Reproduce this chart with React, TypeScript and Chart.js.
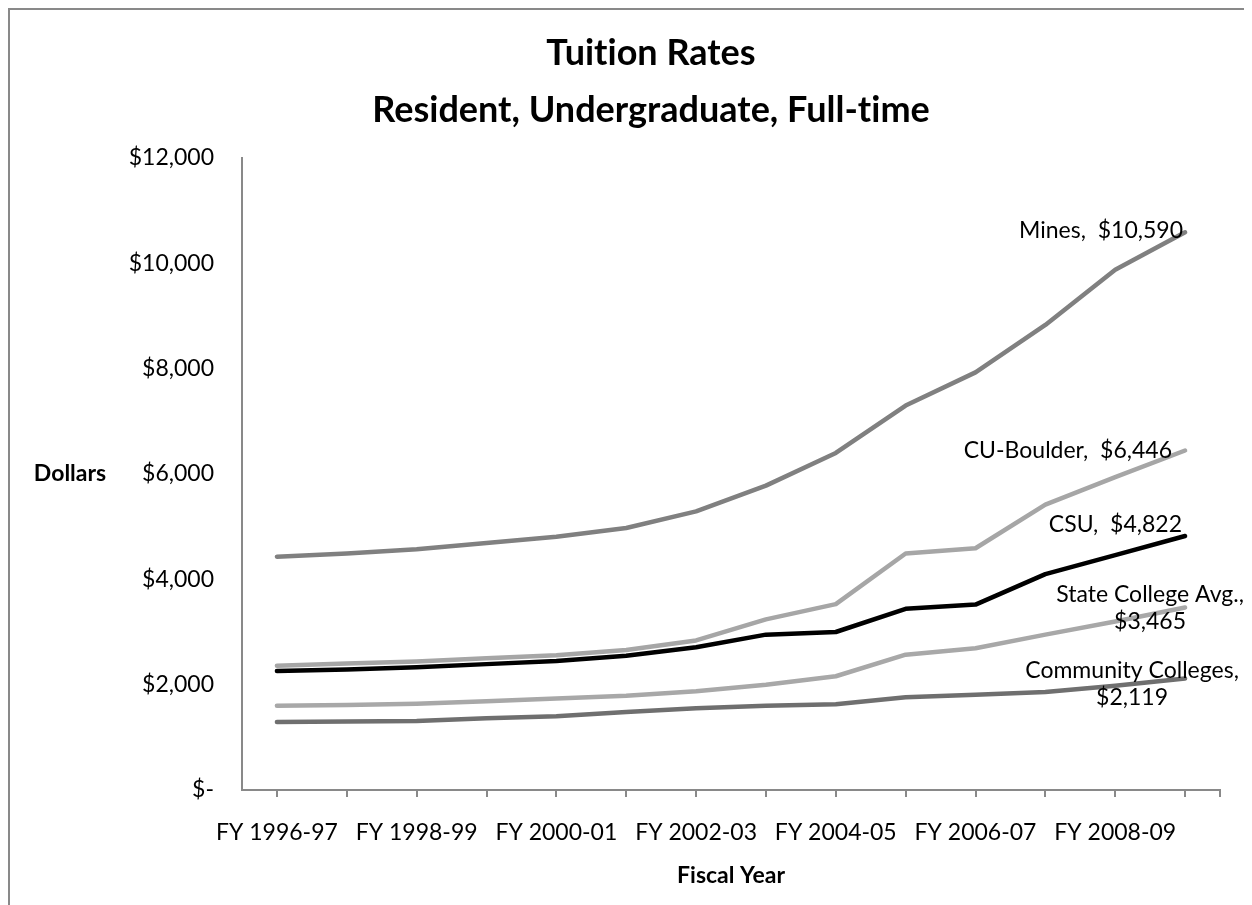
import React, { useEffect, useRef } from "react";
import { Chart, registerables } from "chart.js";

Chart.register(...registerables);

// Fiscal years on the category axis
const fiscalYears = [
  "FY 1996-97", "FY 1997-98", "FY 1998-99", "FY 1999-00", "FY 2000-01",
  "FY 2001-02", "FY 2002-03", "FY 2003-04", "FY 2004-05", "FY 2005-06",
  "FY 2006-07", "FY 2007-08", "FY 2008-09", "FY 2009-10",
];

// Resident undergraduate full-time tuition, dollars per year
const minesTuition = [4430, 4490, 4570, 4690, 4810, 4975, 5290, 5780, 6400, 7300, 7930, 8830, 9880, 10590];
const cuBoulderTuition = [2360, 2400, 2440, 2500, 2560, 2660, 2840, 3240, 3530, 4490, 4590, 5420, 5940, 6446];
const csuTuition = [2260, 2290, 2330, 2390, 2450, 2550, 2710, 2950, 3000, 3440, 3520, 4100, 4460, 4822];
const stateCollegeTuition = [1600, 1615, 1640, 1685, 1735, 1790, 1875, 2000, 2160, 2570, 2690, 2950, 3200, 3465];
const communityCollegeTuition = [1290, 1300, 1310, 1360, 1400, 1480, 1550, 1600, 1630, 1760, 1810, 1860, 1980, 2119];

const yTicks = [0, 2000, 4000, 6000, 8000, 10000, 12000];

const FONT = "Lato, 'Noto Sans', sans-serif";
const AXIS_GRAY = "#898989";

const money = (v: number) => (v === 0 ? "$-" : "$" + v.toLocaleString("en-US"));

// End-of-line labels: series name and final value, placed next to the last point
const seriesLabels = [
  { lines: (v: string) => ["Mines,  " + v], align: "right", dx: -2, dy: -2 },
  { lines: (v: string) => ["CU-Boulder,  " + v], align: "right", dx: -13, dy: 0 },
  { lines: (v: string) => ["CSU,  " + v], align: "right", dx: -3, dy: -11 },
  { lines: (v: string) => ["State College Avg.,", v], align: "center", dx: -35, dy: 1 },
  { lines: (v: string) => ["Community Colleges,", v], align: "center", dx: -53, dy: 6 },
];

const decorPlugin = {
  id: "decor",
  afterDraw(chart: any) {
    const { ctx, chartArea } = chart;
    const { left, right, top, bottom } = chartArea;
    ctx.save();
    // tiny letter spacing keeps Lato from forming "ti" ligatures
    ctx.letterSpacing = "0.01px";

    // closing tick at the right end of the category axis
    ctx.strokeStyle = AXIS_GRAY;
    ctx.lineWidth = 2;
    ctx.beginPath();
    ctx.moveTo(right, bottom);
    ctx.lineTo(right, bottom + 7);
    ctx.stroke();

    // chart title
    ctx.fillStyle = "#000";
    ctx.textAlign = "center";
    ctx.textBaseline = "alphabetic";
    ctx.font = `bold 36px ${FONT}`;
    const cx = chart.width / 2 + 20;
    ctx.fillText("Tuition Rates", cx, 55);
    ctx.fillText("Resident, Undergraduate, Full-time", cx, 112);

    // axis titles
    ctx.font = `bold 23px ${FONT}`;
    ctx.textBaseline = "middle";
    ctx.fillText("Dollars", left - 172, (top + bottom) / 2);
    ctx.fillText("Fiscal Year", (left + right) / 2, bottom + 86);

    // end-of-line value labels
    ctx.font = `23px ${FONT}`;
    chart.data.datasets.forEach((ds: any, i: number) => {
      const meta = chart.getDatasetMeta(i);
      const last = meta.data[meta.data.length - 1];
      const cfg = seriesLabels[i];
      const lines = cfg.lines(money(ds.data[ds.data.length - 1]));
      const lh = 27;
      const y0 = last.y + cfg.dy - ((lines.length - 1) * lh) / 2;
      ctx.textAlign = cfg.align;
      lines.forEach((t: string, k: number) => {
        ctx.fillText(t, last.x + cfg.dx, y0 + k * lh);
      });
    });
    ctx.restore();
  },
};

export default function App() {
  const canvasRef = useRef<HTMLCanvasElement>(null);

  useEffect(() => {
    const canvas = canvasRef.current;
    if (!canvas) return;
    const line = (label: string, data: number[], color: string) => ({
      label,
      data,
      borderColor: color,
      backgroundColor: color,
      borderWidth: 4.5,
      pointRadius: 0,
      tension: 0,
      fill: false,
      borderCapStyle: "round" as const,
      borderJoinStyle: "round" as const,
    });
    const chart = new Chart(canvas, {
      type: "line",
      data: {
        labels: fiscalYears,
        datasets: [
          line("Mines", minesTuition, "#808080"),
          line("CU-Boulder", cuBoulderTuition, "#a6a6a6"),
          line("CSU", csuTuition, "#000000"),
          line("State College Avg.", stateCollegeTuition, "#a8a8a8"),
          line("Community Colleges", communityCollegeTuition, "#6f6f6f"),
        ],
      },
      options: {
        animation: false,
        responsive: false,
        devicePixelRatio: 1,
        layout: { padding: { top: 148, right: 32, bottom: 0, left: 0 } },
        plugins: {
          legend: { display: false },
          title: { display: false },
          tooltip: { enabled: false },
        },
        scales: {
          x: {
            type: "category",
            offset: true,
            afterFit: (s: any) => {
              s.height = 115;
            },
            grid: {
              offset: false,
              drawOnChartArea: false,
              drawTicks: true,
              tickLength: 7,
              color: AXIS_GRAY,
              lineWidth: 2,
            },
            border: { display: true, color: AXIS_GRAY, width: 2 },
            ticks: {
              autoSkip: false,
              maxRotation: 0,
              minRotation: 0,
              padding: 22,
              color: "#000",
              font: { family: FONT, size: 23 },
              callback: (_v: any, i: number) => (i % 2 === 0 ? fiscalYears[i] : ""),
            },
          },
          y: {
            min: 0,
            max: 12000,
            afterFit: (s: any) => {
              s.width = 232;
            },
            afterBuildTicks: (s: any) => {
              s.ticks = yTicks.map((v) => ({ value: v }));
            },
            grid: { display: false, drawTicks: false },
            border: { display: true, color: AXIS_GRAY, width: 2 },
            ticks: {
              padding: 28,
              color: "#000",
              font: { family: FONT, size: 23 },
              callback: (v: any) => money(Number(v)),
            },
          },
        },
      },
      plugins: [decorPlugin],
    });
    return () => chart.destroy();
  }, []);

  return (
    <div
      style={{
        width: 1242,
        height: 895,
        borderLeft: `2px solid ${AXIS_GRAY}`,
        borderTop: `2px solid ${AXIS_GRAY}`,
        background: "#fff",
      }}
    >
      <canvas ref={canvasRef} width={1242} height={895} style={{ display: "block" }} />
    </div>
  );
}
